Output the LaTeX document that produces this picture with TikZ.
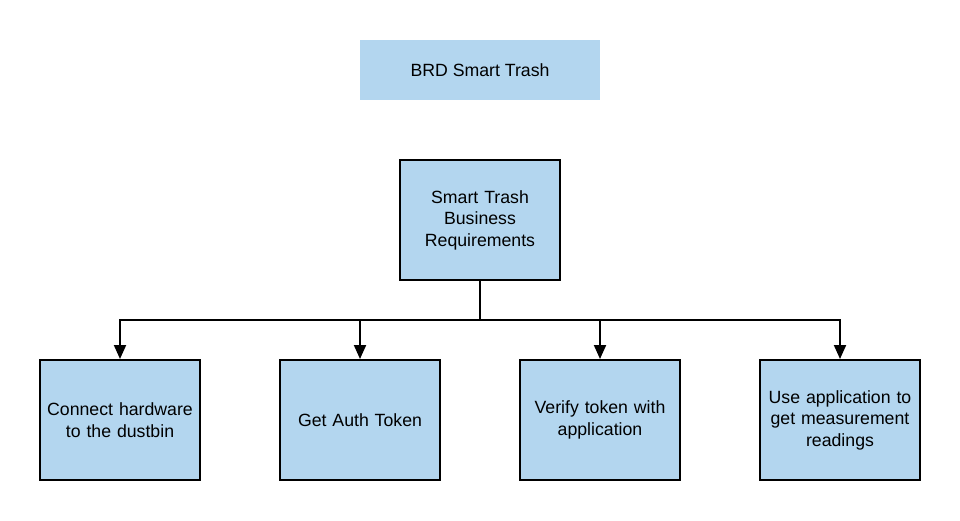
\documentclass[tikz,border=0pt]{standalone}
\usepackage{fontspec}
\setmainfont{Liberation Sans}
\usetikzlibrary{arrows.meta}
\definecolor{boxblue}{RGB}{179,214,239}
\begin{document}
\begin{tikzpicture}[x=1pt,y=-1pt,
  box/.style={draw=black,line width=2pt,fill=boxblue,minimum width=160pt,minimum height=120pt,inner sep=0pt,align=center,text width=156pt,font=\fontsize{17.7}{21.5}\selectfont},
  titlebox/.style={fill=boxblue,minimum width=240pt,minimum height=60pt,inner sep=0pt,align=center,font=\fontsize{17.7}{21.5}\selectfont},
  conn/.style={line width=2pt,black},
  arr/.style={conn,-{Triangle[width=12pt,length=14pt]}}]
\useasboundingbox (0,0) rectangle (960,520);
\fill[white] (0,0) rectangle (960,520);
\node[titlebox] (title) at (480,70) {BRD Smart Trash};
\node[box] (main) at (480,220) {Smart Trash\\Business\\Requirements};
\node[box] (c1) at (120,420) {Connect hardware\\to the dustbin};
\node[box] (c2) at (360,420) {Get Auth Token};
\node[box] (c3) at (600,420) {Verify token with\\application};
\node[box] (c4) at (840,420) {Use application to\\get measurement\\readings};
\coordinate (j) at (480,320);
\draw[conn] (main.south) -- (j);
\draw[arr] (j) -| (c1.north);
\draw[arr] (j) -| (c2.north);
\draw[arr] (j) -| (c3.north);
\draw[arr] (j) -| (c4.north);
\end{tikzpicture}
\end{document}
